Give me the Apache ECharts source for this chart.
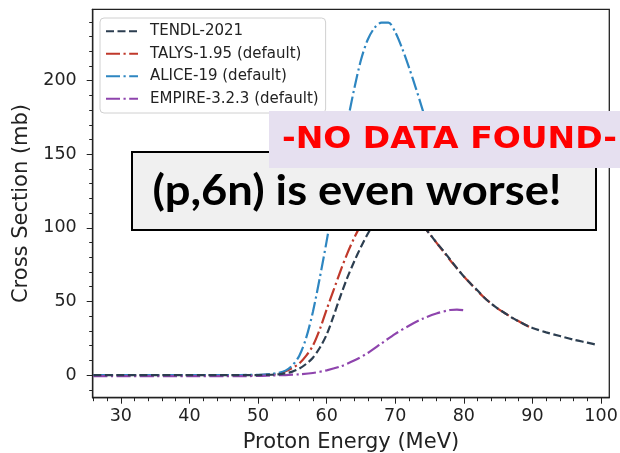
<!DOCTYPE html>
<html>
<head>
<meta charset="utf-8">
<script src="https://cdn.jsdelivr.net/npm/echarts@6/dist/echarts.min.js"></script>
<style>
html,body{margin:0;padding:0;background:#fff;}
#chart{width:620px;height:453px;}
</style>
</head>
<body>
<div id="chart"></div>
<script>
// ---- data ----
const seriesNames = ['TENDL-2021', 'TALYS-1.95 (default)', 'ALICE-19 (default)', 'EMPIRE-3.2.3 (default)'];

const tendlE = [26, 30, 35, 40, 45, 50, 52, 53, 54, 55, 56, 57, 58, 59, 60, 61, 62, 63, 64, 65, 66, 67, 68, 69, 70, 71, 72, 73, 74, 75, 76, 77, 78, 79, 80, 81, 82, 83, 84, 85, 86, 87, 88, 89, 90, 92, 94, 96, 98, 99.5];
const tendlXS = [0, 0, 0, 0, 0, 0, 0.2, 0.5, 1.2, 2.3, 4.3, 7.5, 11.8, 18.5, 27.5, 40, 53.5, 66, 77, 87, 96, 103.5, 109.5, 113.5, 115, 114, 111, 106.5, 101.5, 96, 90, 84.5, 78.5, 72.5, 67, 62, 57.5, 52.5, 48.5, 45, 42, 39, 36.5, 34, 32, 29, 26.5, 24, 22, 20.4];

const talysE = [26, 30, 35, 40, 45, 50, 52, 53, 54, 55, 56, 57, 58, 59, 60, 61, 62, 63, 64, 65, 66, 67, 68, 69, 70, 71, 72, 73, 74, 75, 76, 77, 78, 79, 80, 81, 82, 83, 84, 85, 86, 87, 88, 89, 90];
const talysXS = [0, 0, 0, 0, 0, 0, 0.3, 1, 2.5, 4.8, 7.8, 13, 20, 31, 44.5, 57.5, 70.5, 82.5, 93, 102, 109.5, 115, 118.5, 120, 119, 116.5, 112.5, 107.5, 102, 96, 90, 84, 78, 72.5, 67, 62, 57, 52.5, 48.5, 45, 42, 39, 36.5, 34, 31.8];

const aliceE = [26, 30, 35, 40, 45, 50, 52, 53, 54, 55, 56, 57, 58, 59, 60, 61, 62, 63, 64, 65, 66, 67, 68, 69, 70, 71, 72, 73, 74, 75, 76];
const aliceXS = [0, 0, 0, 0, 0, 0.2, 0.8, 1.5, 3, 6.5, 13, 25, 43, 66, 91, 118, 145, 171, 194, 214, 228, 236, 239.5, 239.5, 233, 222, 209, 195, 180, 164, 148];

const empireE = [26, 30, 35, 40, 45, 50, 52, 54, 56, 58, 60, 62, 64, 66, 68, 70, 72, 74, 76, 78, 79, 80];
const empireXS = [-0.8, -0.8, -0.8, -0.8, -0.8, -0.6, -0.3, 0, 0.5, 1.4, 3.2, 5.8, 9.8, 15, 21.5, 28, 33.5, 38.3, 41.8, 44.2, 44.5, 44.1];

const xMajorTicks = [30, 40, 50, 60, 70, 80, 90, 100];
const xMinorTicks = [26, 28, 32, 34, 36, 38, 42, 44, 46, 48, 52, 54, 56, 58, 62, 64, 66, 68, 72, 74, 76, 78, 82, 84, 86, 88, 92, 94, 96, 98, 100];
const yMajorTicks = [0, 50, 100, 150, 200];
const yMinorTicks = [-10, 10, 20, 30, 40, 60, 70, 80, 90, 110, 120, 130, 140, 160, 170, 180, 190, 210, 220, 230, 240];

const xTitle = 'Proton Energy (MeV)';
const yTitle = 'Cross Section (mb)';
const banner = '-NO DATA FOUND-';
const note = '(p,6n) is even worse!';

// ---- build chart ----
const pairs = (xs, ys) => xs.map((x, i) => [x, ys[i]]);
const colors = ['#2c3e50', '#c0392b', '#2e86c1', '#8e44ad'];
const dashed = [8, 3.5];
const dashdot = [14, 3.5, 2.2, 3.5];
const styles = [dashed, dashdot, dashdot, dashdot];
const datasets = [pairs(tendlE, tendlXS), pairs(talysE, talysXS), pairs(aliceE, aliceXS), pairs(empireE, empireXS)];

const FONT = 'DejaVu Sans';
const XMIN = 25.9, XMAX = 101.2, YMIN = -15.4, YMAX = 248.5;

const chart = echarts.init(document.getElementById('chart'), null, {renderer: 'canvas'});
chart.setOption({
  backgroundColor: '#ffffff',
  animation: false,
  grid: {left: 92.7, right: 10.7, top: 9.3, bottom: 55.3, show: true, borderColor: '#222', borderWidth: 1.3,
         backgroundColor: 'transparent', containLabel: false, outerBoundsMode: 'none'},
  legend: {
    orient: 'vertical', left: 100, top: 18,
    itemWidth: 32, itemHeight: 14, itemGap: 0,
    padding: [2, 7, 3, 5],
    backgroundColor: 'rgba(255,255,255,0.85)', borderColor: '#d0d0d0', borderWidth: 1, borderRadius: 4,
    itemStyle: {opacity: 0, borderWidth: 0},
    textStyle: {fontFamily: FONT, fontSize: 15, color: '#222', lineHeight: 22.5, padding: [0, 0, 0, 7]},
    data: seriesNames
  },
  xAxis: [
    {type: 'value', min: XMIN, max: XMAX, position: 'bottom',
     axisLine: {show: true, onZero: false, lineStyle: {color: '#222', width: 1.3}},
     axisTick: {show: true, customValues: xMajorTicks, length: 6, lineStyle: {color: '#222', width: 1}},
     axisLabel: {show: true, customValues: xMajorTicks, fontFamily: FONT, fontSize: 17.5, color: '#222', margin: 10},
     splitLine: {show: false},
     name: xTitle, nameLocation: 'middle', nameGap: 34,
     nameTextStyle: {fontFamily: FONT, fontSize: 21, color: '#222'}},
    {type: 'value', min: XMIN, max: XMAX, position: 'bottom',
     axisLine: {show: false, onZero: false},
     axisTick: {show: true, customValues: xMinorTicks, length: 3.5, lineStyle: {color: '#222', width: 1}},
     axisLabel: {show: false}, splitLine: {show: false}}
  ],
  yAxis: [
    {type: 'value', min: YMIN, max: YMAX, position: 'left',
     axisLine: {show: true, onZero: false, lineStyle: {color: '#222', width: 1.3}},
     axisTick: {show: true, customValues: yMajorTicks, length: 6, lineStyle: {color: '#222', width: 1}},
     axisLabel: {show: true, customValues: yMajorTicks, fontFamily: FONT, fontSize: 17.5, color: '#222', margin: 16},
     splitLine: {show: false},
     name: yTitle, nameLocation: 'middle', nameGap: 54,
     nameTextStyle: {fontFamily: FONT, fontSize: 21, color: '#222'}},
    {type: 'value', min: YMIN, max: YMAX, position: 'left',
     axisLine: {show: false, onZero: false},
     axisTick: {show: true, customValues: yMinorTicks, length: 3.5, lineStyle: {color: '#222', width: 1}},
     axisLabel: {show: false}, splitLine: {show: false}}
  ],
  series: seriesNames.map((name, i) => ({
    name: name, type: 'line', data: datasets[i], smooth: 0.3,
    symbol: 'none', showSymbol: false, clip: true,
    xAxisIndex: 0, yAxisIndex: 0,
    color: colors[i],
    lineStyle: {color: colors[i], width: 2.2, type: styles[i]},
    z: 2 + (i === 0 ? 1 : 0)
  })),
  graphic: [
    {type: 'rect', z: 100, shape: {x: 132, y: 152, width: 464, height: 78},
     style: {fill: '#f0f0f0', stroke: '#000', lineWidth: 2}},
    {type: 'text', z: 101, x: 357, y: 191, scaleX: 1.08,
     style: {text: note, fill: '#000', fontFamily: 'Lato', fontWeight: 'bold', fontSize: 42, align: 'center', verticalAlign: 'middle'}},
    {type: 'rect', z: 102, shape: {x: 269, y: 111, width: 360, height: 57},
     style: {fill: '#e6e0f0'}},
    {type: 'text', z: 103, x: 449.4, y: 140, scaleX: 1.1,
     style: {text: banner, fill: '#ff0000', fontFamily: FONT, fontWeight: 'bold', fontSize: 30, align: 'center', verticalAlign: 'middle'}}
  ]
});
</script>
</body>
</html>
